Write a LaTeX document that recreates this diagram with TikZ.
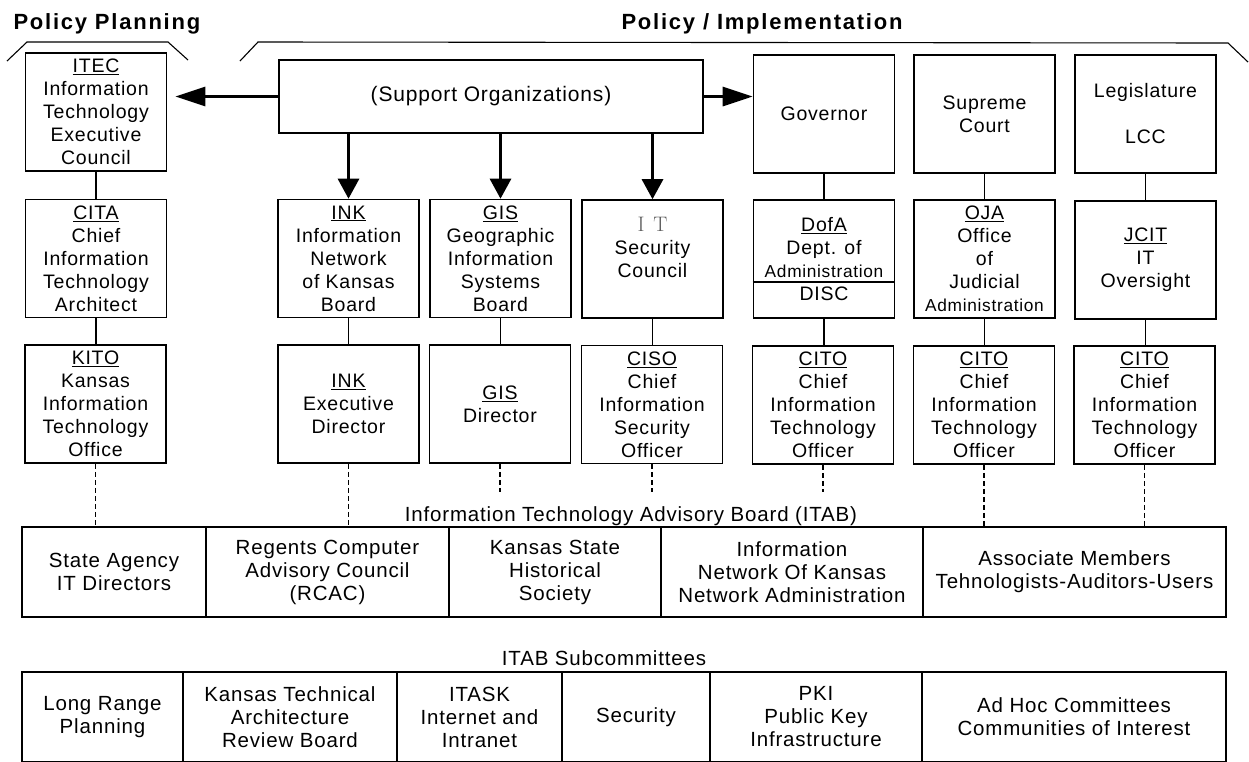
\documentclass[tikz,border=0pt]{standalone}
\usepackage{fontspec}
\setsansfont[LetterSpace=4]{Liberation Sans}
\newfontfamily\titlefont[LetterSpace=8]{Liberation Sans}
\usetikzlibrary{arrows.meta}

\begin{document}
\begin{tikzpicture}[x=1pt,y=-1pt,
        box/.style={draw,line width=1.6pt,minimum width=141pt,minimum height=118pt,inner sep=0pt,align=center,
            font=\sffamily\fontsize{19.5}{23}\selectfont},
        cell/.style={draw,line width=1.4pt,minimum height=90pt,inner sep=0pt,align=center,
            font=\sffamily\fontsize{20.5}{23}\selectfont},
        title/.style={font=\titlefont\bfseries\fontsize{22}{24}\selectfont},
        caption/.style={font=\sffamily\fontsize{20.5}{23}\selectfont},
        link/.style={line width=1.1pt},
        dashlink/.style={line width=1.8pt,dash pattern=on 5pt off 3pt},
        sidearrow/.style={line width=3pt,-{Triangle[length=30pt,width=19pt]}},
        downarrow/.style={line width=3pt,-{Triangle[length=20pt,width=21pt]}}]

        \clip (0,0) rectangle (1249,761);

        \node[title,anchor=base west] (plan) at (10,29) {Policy Planning};
        \node[title,anchor=base] (impl) at (762,29) {Policy / Implementation};
        \draw[link] (7,61) -- (27,42) -- (168,42) -- (188,60);
        \draw[link] (240,61) -- (258,42) -- (1228,43) -- (1248,62);

        % top row
        \node[box] (itec) at (96,112) {\underline{ITEC}\\Information\\Technology\\Executive\\Council};
        \node[box,minimum width=424pt,minimum height=73pt,font=\sffamily\fontsize{21}{23}\selectfont] (support) at (491,96.5) {(Support Organizations)};
        \node[box] (gov) at (824,114) {Governor};
        \node[box] (court) at (984.5,114) {Supreme\\Court};
        \node[box] (legis) at (1145.5,114) {Legislature\\[23pt]LCC};

        % middle row
        \node[box] (cita) at (96,258.5) {\underline{CITA}\\Chief\\Information\\Technology\\Architect};
        \node[box] (inkboard) at (348.5,258.5) {\underline{INK}\\Information\\Network\\of Kansas\\Board};
        \node[box] (gisboard) at (500.5,258.5) {\underline{GIS}\\Geographic\\Information\\Systems\\Board};
        \node[box] (itsec) at (652.5,259) {{\rmfamily\color{black!65}\fontsize{21}{23}\selectfont I\hspace{9pt}T}\\Security\\Council\\\mbox{}};
        \node[box] (dofa) at (824,259) {\underline{DofA}\\Dept. of\\{\fontsize{17.3}{21}\selectfont Administration}\\DISC};
        \node[box] (oja) at (984.5,259) {\underline{OJA}\\Office\\of\\Judicial\\{\fontsize{17.3}{21}\selectfont Administration}};
        \node[box] (jcit) at (1145.5,260) {\underline{JCIT}\\IT\\Oversight};
        \coordinate (dsplit) at (0,282);
        \draw[link] (dofa.west |- dsplit) -- (dofa.east |- dsplit);

        % bottom row
        \node[box] (kito) at (95.5,404) {\underline{KITO}\\Kansas\\Information\\Technology\\Office};
        \node[box] (inkdir) at (348.5,404) {\underline{INK}\\Executive\\Director};
        \node[box] (gisdir) at (500,404) {\underline{GIS}\\Director};
        \node[box] (ciso) at (652,404.5) {\underline{CISO}\\Chief\\Information\\Security\\Officer};
        \foreach \n/\x in {citogov/823,citocourt/984,citolegis/1144.5}
        {
            \node[box] (\n) at (\x,405) {\underline{CITO}\\Chief\\Information\\Technology\\Officer};
        }

        % arrows
        \draw[sidearrow,shorten >=8pt] (support.west) -- (support.west -| itec.east);
        \draw[sidearrow] (support.east) -- (support.east -| gov.west);
        \foreach \n in {inkboard,gisboard,itsec}
            \draw[downarrow] (support.south -| \n.north) -- (\n.north);

        \foreach \a/\b in {itec/cita,cita/kito,inkboard/inkdir,gisboard/gisdir,itsec/ciso,
            gov/dofa,dofa/citogov,court/oja,oja/citocourt,legis/jcit,jcit/citolegis}
            \draw[link] (\a.south) -- (\a.south |- \b.north);

        % ITAB
        \node[caption,anchor=base] (itab) at (631,521) {Information Technology Advisory Board (ITAB)};
        \node[cell,minimum width=184pt] (agency) at (114,572) {State Agency\\IT Directors};
        \node[cell,minimum width=243pt] (regents) at (327.5,572) {Regents Computer\\Advisory Council\\(RCAC)};
        \node[cell,minimum width=212pt] (histsoc) at (555,572) {Kansas State\\Historical\\Society};
        \node[cell,minimum width=262pt] (inknet) at (792,572) {Information\\Network Of Kansas\\Network Administration};
        \node[cell,minimum width=303pt] (assoc) at (1074.5,572) {Associate Members\\Tehnologists-Auditors-Users};

        \coordinate (dashend) at (0,492);
        \foreach \a/\b in {kito/agency,inkdir/regents,citocourt/assoc,citolegis/assoc}
            \draw[dashlink] (\a.south) -- (\a.south |- \b.north);
        \foreach \a in {gisdir,ciso,citogov}
            \draw[dashlink] (\a.south) -- (\a.south |- dashend);

        % subcommittees
        \node[caption,anchor=base] (subs) at (604,665) {ITAB Subcommittees};
        \node[cell,minimum width=161pt] (longrange) at (102.5,717) {Long Range\\Planning};
        \node[cell,minimum width=214pt] (ktarb) at (290,717) {Kansas Technical\\Architecture\\Review Board};
        \node[cell,minimum width=165pt] (itask) at (479.5,717) {ITASK\\Internet and\\Intranet};
        \node[cell,minimum width=148pt] (security) at (636,717) {Security};
        \node[cell,minimum width=212pt] (pki) at (816,717) {PKI\\Public Key\\Infrastructure};
        \node[cell,minimum width=304pt] (adhoc) at (1074,717) {Ad Hoc Committees\\Communities of Interest};
    \end{tikzpicture}
\end{document}
